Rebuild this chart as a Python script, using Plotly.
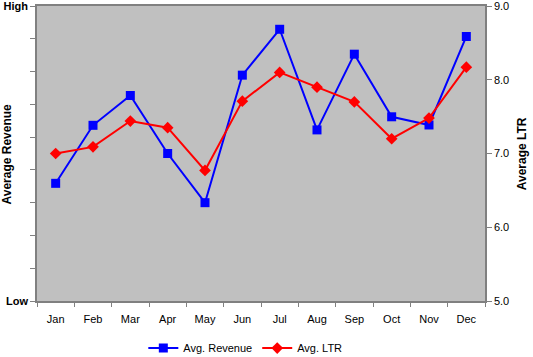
import plotly.graph_objects as go

months = ["Jan", "Feb", "Mar", "Apr", "May", "Jun", "Jul", "Aug", "Sep", "Oct", "Nov", "Dec"]
avg_revenue = [3.59, 5.36, 6.27, 4.5, 3.0, 6.89, 8.29, 5.22, 7.53, 5.62, 5.37, 8.07]
avg_ltr = [7.0, 7.09, 7.44, 7.35, 6.77, 7.71, 8.1, 7.9, 7.7, 7.2, 7.48, 8.17]
rev_tickvals = list(range(10))
rev_ticktext = ["<b>Low</b>", "", "", "", "", "", "", "", "", "<b>High</b>"]
ltr_tickvals = [5, 6, 7, 8, 9]

fnt = "Liberation Sans, Arial, sans-serif"

fig = go.Figure()
fig.add_trace(go.Scatter(
    x=months, y=avg_revenue, name="Avg. Revenue", mode="lines+markers",
    line=dict(color="#0000ff", width=2),
    marker=dict(symbol="square", size=9, color="#0000ff"),
    yaxis="y"))
fig.add_trace(go.Scatter(
    x=months, y=avg_ltr, name="Avg. LTR", mode="lines+markers",
    line=dict(color="#ff0000", width=2),
    marker=dict(symbol="diamond", size=9, color="#ff0000"),
    yaxis="y2"))

fig.update_layout(
    width=533, height=357,
    margin=dict(l=37, r=48, t=6, b=56, autoexpand=False),
    paper_bgcolor="white", plot_bgcolor="#c0c0c0",
    font=dict(family=fnt, size=11, color="black"),
    showlegend=True,
    legend=dict(orientation="h", x=0.465, xanchor="center", yref="container", y=0.025,
                yanchor="middle", font=dict(size=11), itemwidth=30, tracegroupgap=0),
    xaxis=dict(type="category", range=[-0.5, 11.5], showgrid=False, zeroline=False, automargin=False,
               showline=True, linecolor="#808080", linewidth=1.5, mirror=True,
               ticks="outside", tickson="boundaries", ticklen=4, tickcolor="#808080",
               ticklabelstandoff=7, tickfont=dict(size=11)),
    yaxis=dict(range=[0, 9], tickvals=rev_tickvals, ticktext=rev_ticktext, automargin=False,
               ticklabeloverflow="allow",
               showgrid=False, zeroline=False, showline=True, linecolor="#808080", linewidth=1.5,
               ticks="outside", ticklen=5, tickcolor="#808080",
               tickfont=dict(size=11, family=fnt)),
    yaxis2=dict(range=[5, 9], tickvals=ltr_tickvals, tickformat=".1f", overlaying="y", side="right",
                automargin=False, ticklabeloverflow="allow",
                showgrid=False, zeroline=False, showline=True, linecolor="#808080", linewidth=1.5,
                ticks="outside", ticklen=5, tickcolor="#808080",
                tickfont=dict(size=11)),
    annotations=[
        dict(text="<b>Average Revenue</b>", xref="paper", yref="paper", x=-0.067, y=0.5,
             xanchor="center", yanchor="middle", textangle=-90, showarrow=False,
             font=dict(size=12)),
        dict(text="<b>Average LTR</b>", xref="paper", yref="paper", x=1.082, y=0.5,
             xanchor="center", yanchor="middle", textangle=-90, showarrow=False,
             font=dict(size=12)),
    ],
)

fig.write_html("out.html", config={"displayModeBar": False},
               post_script="document.body.style.margin='0';document.body.style.overflow='hidden';")
